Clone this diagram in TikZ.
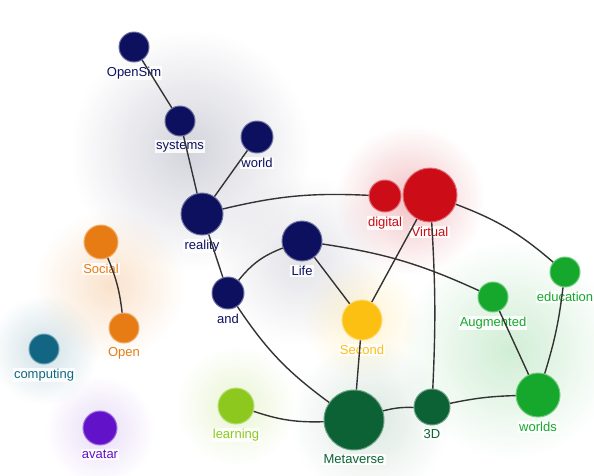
\documentclass[tikz,border=0pt]{standalone}
\usepackage{fontspec}
\setmainfont{Liberation Sans}
\usetikzlibrary{fadings}

\definecolor{navy}{RGB}{12,16,94}
\definecolor{vred}{RGB}{204,12,22}
\definecolor{vorange}{RGB}{232,124,20}
\definecolor{vteal}{RGB}{18,102,132}
\definecolor{vpurple}{RGB}{98,18,200}
\definecolor{vyellow}{RGB}{252,192,18}
\definecolor{vgreen}{RGB}{22,168,44}
\definecolor{vlime}{RGB}{140,200,30}
\definecolor{vdark}{RGB}{12,98,52}
\definecolor{haze}{RGB}{110,112,140}

\tikzfading[name=glow, inner color=transparent!0, outer color=transparent!100]

\tikzset{
  kw/.style={circle, fill=#1, draw=#1!60!white, line width=1pt, inner sep=0pt},
  tag/.style={fill=white, fill opacity=0.85, text opacity=1, inner sep=1.2pt,
    label distance=3pt, font=\fontsize{13}{14}\selectfont},
  link/.style={draw=black!80, line width=1.4pt},
}

\begin{document}
\begin{tikzpicture}[x=1pt,y=-1pt]
        \useasboundingbox (0,0) rectangle (594,475);

        % draw glows
        \foreach \x/\y/\r/\c/\o in {190/150/120/haze/0.3, 300/260/85/haze/0.2,
            410/200/75/vred/0.25, 110/285/75/vorange/0.22, 44/350/55/vteal/0.2,
            100/430/55/vpurple/0.15, 362/320/60/vyellow/0.2, 510/350/110/vgreen/0.2,
            236/406/60/vlime/0.2, 370/420/80/vdark/0.15}
          \fill[\c, path fading=glow, opacity=\o] (\x,\y) circle (\r pt);

        % draw nodes
        \foreach \n/\x/\y/\d/\c in {OpenSim/134/47/30/navy, systems/180/121/30/navy,
            world/257/137/32/navy, reality/202/214/42/navy, Life/302/241/40/navy,
            and/228/293/32/navy, digital/385/196/32/vred, Virtual/430/195/54/vred,
            Social/101/242/34/vorange, Open/124/328/30/vorange,
            computing/44/349/30/vteal, avatar/100/428/34/vpurple,
            Second/362/320/40/vyellow, Augmented/493/297/30/vgreen,
            education/565/272/30/vgreen, learning/236/406/36/vlime,
            Metaverse/354/420/60/vdark, 3D/432/407/36/vdark, worlds/538/395/44/vgreen}
          \node[kw=\c, minimum size=\d pt, label={[tag, text=\c]below:\n}] (\n) at (\x,\y) {};

        % draw links
        \draw[link] (OpenSim) -- (systems);
        \draw[link] (systems) -- (reality);
        \draw[link] (world) -- (reality);
        \draw[link] (reality) to[bend left=8] (digital);
        \draw[link] (reality) -- (and);
        \draw[link] (and) to[bend left=15] (Life);
        \draw[link] (and) to[bend right=10] (Metaverse);
        \draw[link] (Life) -- (Second);
        \draw[link] (Life) to[bend left=8] (Augmented);
        \draw[link] (Virtual) -- (Second);
        \draw[link] (Virtual) to[bend left=3] (3D);
        \draw[link] (Virtual) to[bend left=10] (education);
        \draw[link] (Social) to[bend left=8] (Open);
        \draw[link] (Second) -- (Metaverse);
        \draw[link] (learning) to[bend right=10] (Metaverse);
        \draw[link] (Metaverse) to[bend left=8] (3D);
        \draw[link] (3D) to[bend left=5] (worlds);
        \draw[link] (Augmented) -- (worlds);
        \draw[link] (education) to[bend left=5] (worlds);
        \end{tikzpicture}
\end{document}
